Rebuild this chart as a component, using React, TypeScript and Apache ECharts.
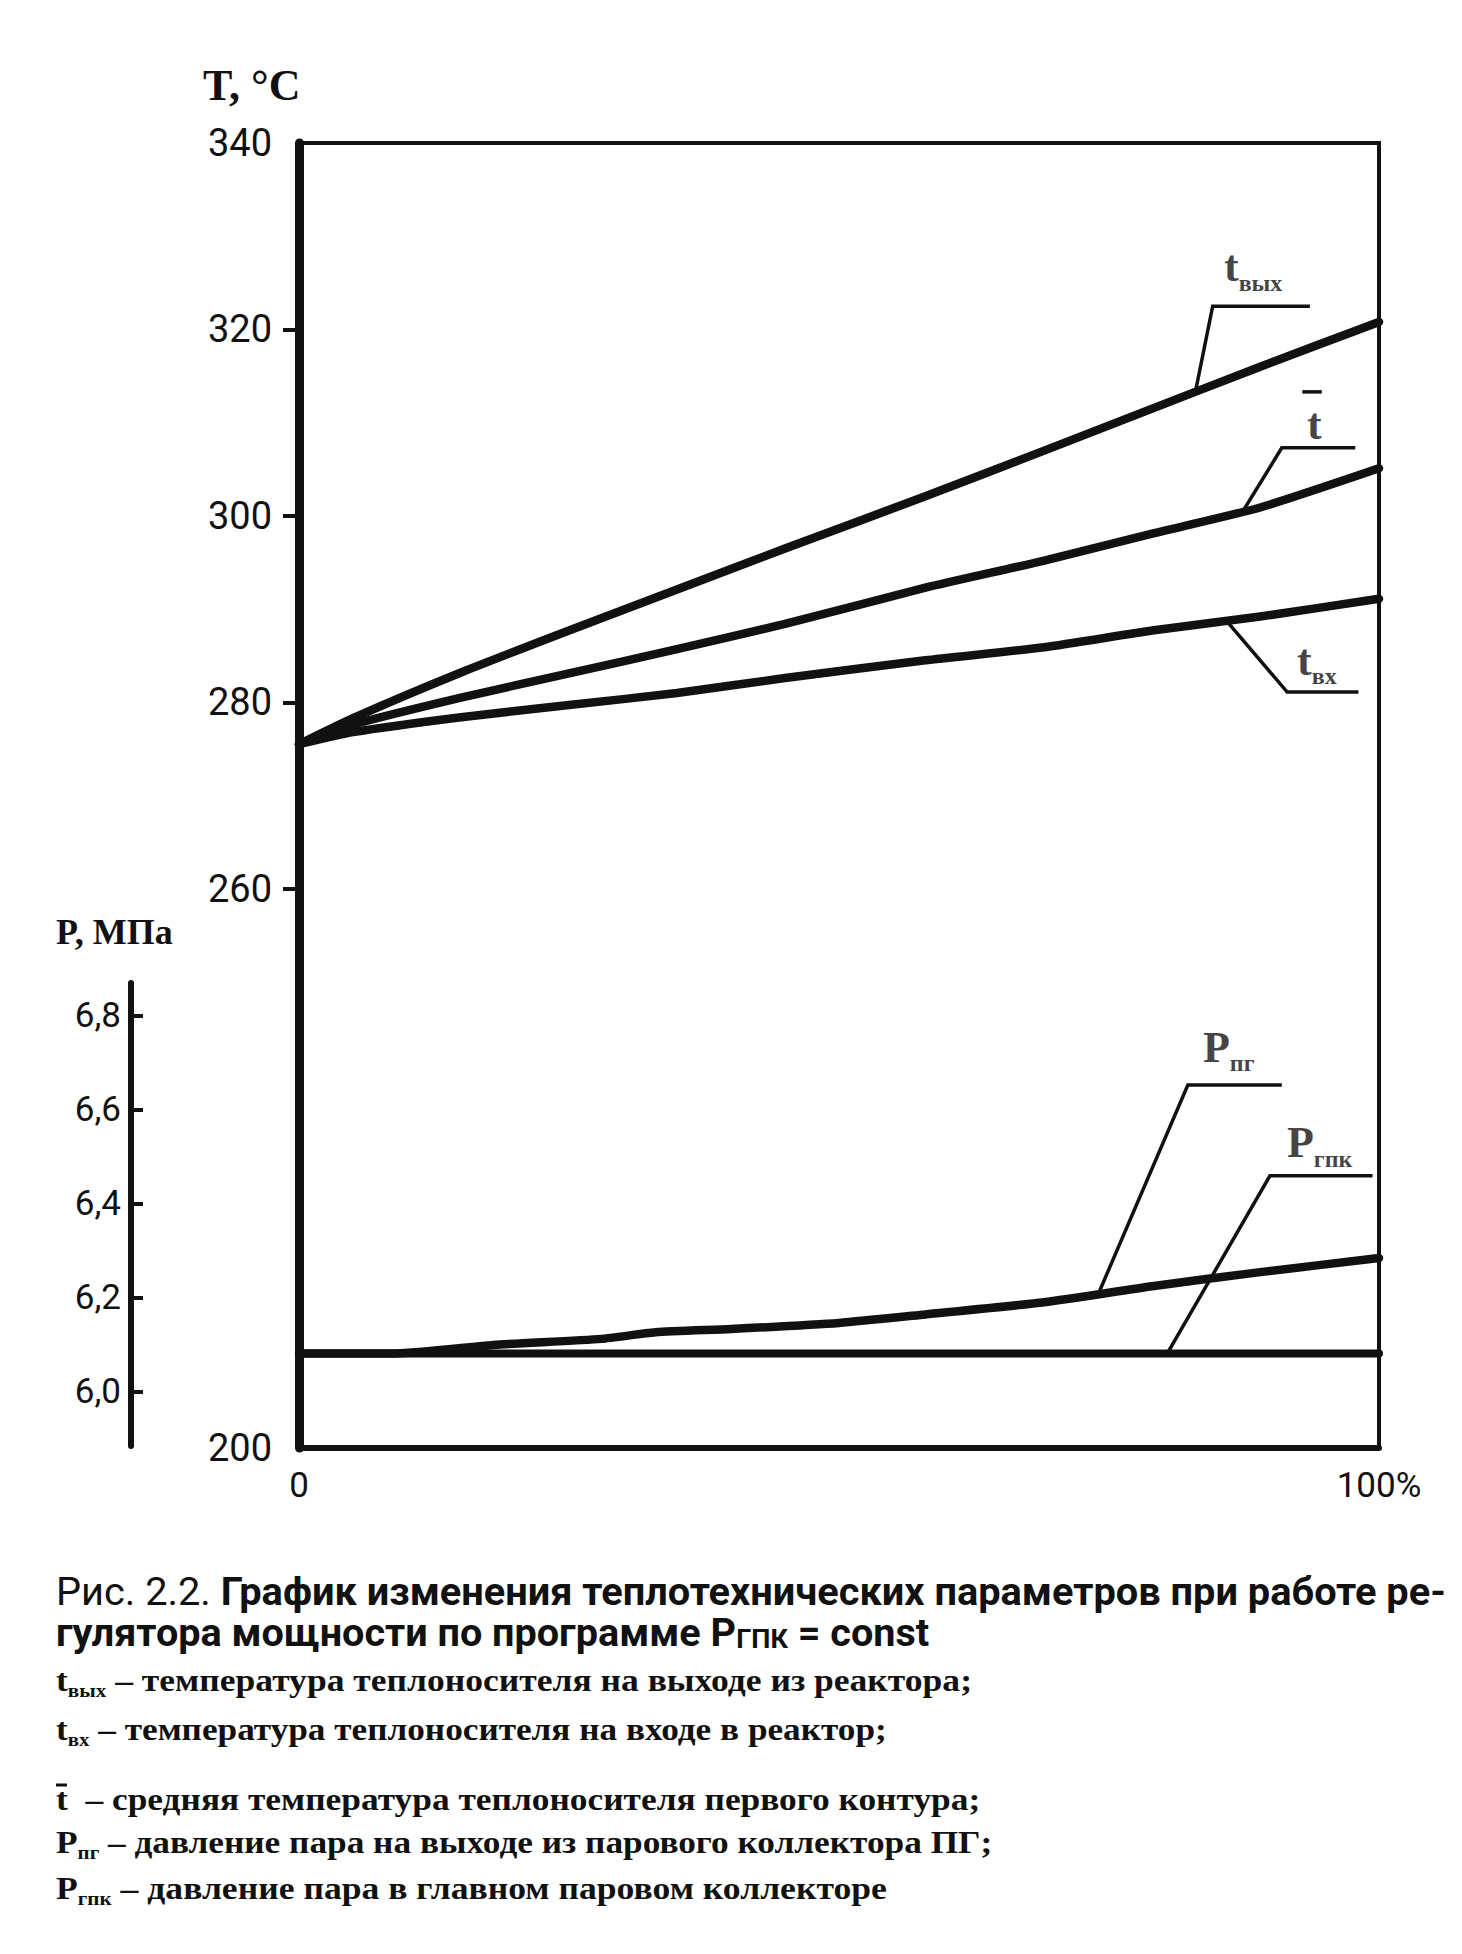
import React, { useEffect, useRef } from "react";
import * as echarts from "echarts";

// ---- data ----
// load, % of nominal power
const loadPct = [0, 5, 15, 25, 35, 45, 58, 69, 79, 89, 100];
// coolant temperature at reactor outlet, °C
const tOutlet = [275.5, 278.3, 283.2, 287.7, 292.1, 296.5, 302.1, 307.0, 311.5, 316.0, 320.8];
// mean coolant temperature, °C
const tMean = [275.5, 277.6, 280.5, 283.1, 285.7, 288.4, 292.3, 295.2, 298.1, 300.9, 305.1];
// coolant temperature at reactor inlet, °C
const tInlet = [275.5, 276.8, 278.4, 279.7, 281.0, 282.6, 284.5, 285.9, 287.7, 289.2, 291.1];

// steam pressure at SG outlet, MPa
const pSgLoad = [0, 9, 18, 28, 33, 40, 50, 58, 69, 79, 89, 100];
const pSg = [6.082, 6.082, 6.1, 6.113, 6.127, 6.134, 6.147, 6.165, 6.191, 6.225, 6.255, 6.285];
// steam pressure in main steam header, MPa
const pMainLoad = [0, 100];
const pMain = [6.082, 6.082];

// axis ticks
const tAxisLabels = [200, 260, 280, 300, 320, 340];
const tAxisTicks = [260, 280, 300, 320];
const pAxisLabels = [6.0, 6.2, 6.4, 6.6, 6.8];
const xAxisLabels = [0, 100];

// leader lines (data coordinates)
const leaderTOutlet = [[83.0, 313.3], [84.6, 322.5], [93.6, 322.5]];
const leaderTMean = [[87.4, 300.5], [91.0, 307.3], [97.8, 307.3]];
const leaderTInlet = [[85.9, 288.7], [91.5, 281.1], [98.1, 281.1]];
const leaderPSg = [[74.0, 6.208], [82.3, 6.653], [91.0, 6.653]];
const leaderPMain = [[80.4, 6.082], [89.9, 6.46], [99.4, 6.46]];
const meanBar = [[92.9, 313.3], [94.7, 313.3]];

// curve labels (data coordinates)
const tLabelKeys = ["tOut", "tMean", "tIn"];
const tLabelX = [85.65, 93.33, 92.41];
const tLabelY = [326.7, 309.75, 284.5];
const pLabelKeys = ["pSg", "pMain"];
const pLabelX = [83.7, 91.48];
const pLabelY = [6.734, 6.53];

const INK = "#111";
const SERIF = "'Liberation Serif', 'DejaVu Serif', serif";
const SANS = "Roboto, 'Noto Sans', sans-serif";

const labelText: Record<string, string> = {
  tOut: "{m|t}{s|вых}",
  tMean: "{m|t}",
  tIn: "{m|t}{s|вх}",
  pSg: "{m|P}{s|пг}",
  pMain: "{m|P}{s|гпк}",
};

const chartRich = {
  m: { fontFamily: SERIF, fontWeight: "bold", fontSize: 44, lineHeight: 56, color: INK },
  s: { fontFamily: SERIF, fontWeight: "bold", fontSize: 24, lineHeight: 24, verticalAlign: "bottom", color: INK },
};

let measureCtx: CanvasRenderingContext2D | null = null;
function tokenWidth(text: string, st: any) {
  if (!measureCtx) measureCtx = document.createElement("canvas").getContext("2d");
  const ctx = measureCtx as CanvasRenderingContext2D;
  ctx.font = `${st.fontWeight || "normal"} ${st.fontSize}px ${st.fontFamily}`;
  return ctx.measureText(text).width;
}

function fitLine(tokens: [string, string][], styles: any, x: number, y: number, width: number) {
  const w = tokens.reduce((a, [k, t]) => a + tokenWidth(t, styles[k]), 0);
  const sx = width / w;
  const rich: any = {};
  Object.keys(styles).forEach((k) => {
    rich[k] = { ...styles[k], fill: INK };
  });
  return {
    type: "text",
    x,
    y,
    scaleX: sx,
    silent: true,
    style: {
      text: tokens.map(([k, t]) => `{${k}|${t}}`).join(""),
      rich,
      align: "left",
      verticalAlign: "middle",
      fill: INK,
    },
  };
}

function lineSeries(name: string, xs: number[], ys: number[], axis: number, width: number) {
  return {
    name,
    type: "line",
    xAxisIndex: axis,
    yAxisIndex: axis,
    data: xs.map((x, i) => [x, ys[i]]),
    symbol: "none",
    smooth: 0.2,
    silent: true,
    lineStyle: { color: INK, width, cap: "round", join: "round" },
  };
}

function leaderSeries(pts: number[][], axis: number) {
  return {
    type: "line",
    xAxisIndex: axis,
    yAxisIndex: axis,
    data: pts,
    symbol: "none",
    silent: true,
    lineStyle: { color: INK, width: 3.5, join: "miter" },
  };
}

export default function App() {
  const ref = useRef<HTMLDivElement>(null);

  useEffect(() => {
    if (!ref.current) return;
    const chart = echarts.init(ref.current, null, { renderer: "svg" });

    const capSans = {
      r: { fontFamily: SANS, fontWeight: "normal", fontSize: 38 },
      b: { fontFamily: SANS, fontWeight: "bold", fontSize: 38 },
      s: { fontFamily: SANS, fontWeight: "bold", fontSize: 26, verticalAlign: "bottom", lineHeight: 26 },
    };
    const legSerif = {
      m: { fontFamily: SERIF, fontWeight: "bold", fontSize: 32, lineHeight: 40 },
      s: { fontFamily: SERIF, fontWeight: "bold", fontSize: 19, lineHeight: 19, verticalAlign: "bottom" },
    };

    const captionLines = [
      fitLine(
        [
          ["r", "Рис. 2.2. "],
          ["b", "График изменения теплотехнических параметров при работе ре-"],
        ],
        capSans, 56, 1592, 1390
      ),
      fitLine(
        [
          ["b", "гулятора мощности по программе P"],
          ["s", "ГПК"],
          ["b", " = const"],
        ],
        capSans, 56, 1633, 873
      ),
      fitLine([["m", "t"], ["s", "вых"], ["m", " – температура теплоносителя на выходе из реактора;"]], legSerif, 56, 1680, 916),
      fitLine([["m", "t"], ["s", "вх"], ["m", " – температура теплоносителя на входе в реактор;"]], legSerif, 56, 1729, 831),
      fitLine([["m", "t"], ["m", "  – средняя температура теплоносителя первого контура;"]], legSerif, 56, 1799, 925),
      fitLine([["m", "P"], ["s", "пг"], ["m", " – давление пара на выходе из парового коллектора ПГ;"]], legSerif, 56, 1842, 937),
      fitLine([["m", "P"], ["s", "гпк"], ["m", " – давление пара в главном паровом коллекторе"]], legSerif, 56, 1888, 831),
    ];

    chart.setOption({
      animation: false,
      backgroundColor: "#fff",
      grid: [
        { left: 299, right: 83, top: 143, bottom: 506, show: true, borderColor: INK, borderWidth: 4, backgroundColor: "transparent" },
        { left: 299, right: 83, top: 983, bottom: 508 },
      ],
      xAxis: [
        {
          gridIndex: 0,
          type: "value",
          min: 0,
          max: 100,
          axisLine: { show: true, onZero: false, lineStyle: { color: INK, width: 6 } },
          axisTick: { show: false },
          splitLine: { show: false },
          axisLabel: {
            customValues: xAxisLabels,
            formatter: (v: number) => (v === 100 ? "100%" : String(v)),
            fontFamily: SANS,
            fontSize: 35,
            color: INK,
            margin: 20,
          },
        },
        { gridIndex: 1, type: "value", min: 0, max: 100, show: false, axisLine: { onZero: false } },
      ],
      yAxis: [
        {
          gridIndex: 0,
          type: "value",
          min: 200,
          max: 340,
          axisLine: { show: true, onZero: false, lineStyle: { color: INK, width: 9 } },
          axisTick: { show: true, customValues: tAxisTicks, length: 16, lineStyle: { color: INK, width: 4 } },
          splitLine: { show: false },
          axisLabel: { customValues: tAxisLabels, fontFamily: SANS, fontSize: 38, color: INK, margin: 27 },
        },
        {
          gridIndex: 1,
          type: "value",
          min: 5.8851,
          max: 6.8702,
          offset: 168,
          position: "left",
          axisLine: { show: true, onZero: false, lineStyle: { color: INK, width: 6 } },
          axisTick: { show: true, inside: true, customValues: pAxisLabels, length: 12, lineStyle: { color: INK, width: 4 } },
          splitLine: { show: false },
          axisLabel: {
            customValues: pAxisLabels,
            formatter: (v: number) => v.toFixed(1).replace(".", ","),
            fontFamily: SANS,
            fontSize: 35,
            color: INK,
            margin: 10,
          },
        },
      ],
      graphic: [
        { type: "text", x: 203, y: 85, silent: true, style: { text: "T, °C", fontFamily: SERIF, fontWeight: "bold", fontSize: 44, fill: INK, align: "left", verticalAlign: "middle" } },
        { type: "text", x: 56, y: 932, silent: true, style: { text: "P, МПа", fontFamily: SERIF, fontWeight: "bold", fontSize: 36, fill: INK, align: "left", verticalAlign: "middle" } },
        ...captionLines,
        { type: "line", silent: true, shape: { x1: 56, y1: 1785, x2: 67, y2: 1785 }, style: { stroke: INK, lineWidth: 3 } },
      ],
      series: [
        lineSeries("tOutlet", loadPct, tOutlet, 0, 8.5),
        lineSeries("tMean", loadPct, tMean, 0, 8.5),
        lineSeries("tInlet", loadPct, tInlet, 0, 8.5),
        lineSeries("pSg", pSgLoad, pSg, 1, 8.5),
        lineSeries("pMain", pMainLoad, pMain, 1, 8),
        leaderSeries(leaderTOutlet, 0),
        leaderSeries(leaderTMean, 0),
        leaderSeries(leaderTInlet, 0),
        leaderSeries(meanBar, 0),
        leaderSeries(leaderPSg, 1),
        leaderSeries(leaderPMain, 1),
        {
          type: "scatter",
          xAxisIndex: 0,
          yAxisIndex: 0,
          symbolSize: 0,
          silent: true,
          itemStyle: { color: "transparent" },
          data: tLabelKeys.map((k, i) => ({ name: k, value: [tLabelX[i], tLabelY[i]] })),
          label: { show: true, position: "inside", align: "left", verticalAlign: "middle", formatter: (p: any) => labelText[p.name], rich: chartRich },
        },
        {
          type: "scatter",
          xAxisIndex: 1,
          yAxisIndex: 1,
          symbolSize: 0,
          silent: true,
          itemStyle: { color: "transparent" },
          data: pLabelKeys.map((k, i) => ({ name: k, value: [pLabelX[i], pLabelY[i]] })),
          label: { show: true, position: "inside", align: "left", verticalAlign: "middle", formatter: (p: any) => labelText[p.name], rich: chartRich },
        },
      ],
    });

    return () => chart.dispose();
  }, []);

  return <div ref={ref} style={{ position: "absolute", left: 0, top: 0, width: 1462, height: 1954, background: "#fff" }} />;
}
